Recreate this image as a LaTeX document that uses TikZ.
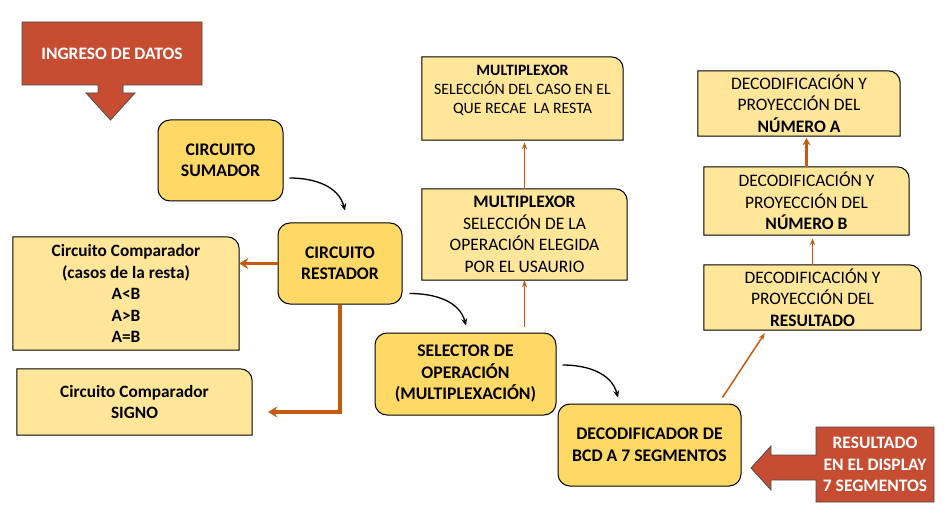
\documentclass[tikz,border=0pt]{standalone}
\usepackage{fontspec}
\setmainfont{Carlito}
\usetikzlibrary{arrows.meta,calc}
\pgfdeclarelayer{background}
\pgfsetlayers{background,main}
\definecolor{gold}{RGB}{255,217,102}
\definecolor{lightgold}{RGB}{255,230,153}
\definecolor{redbox}{RGB}{198,76,50}
\definecolor{orarrow}{RGB}{197,90,17}
\tikzset{
  goldbox/.style={draw=black,line width=1pt,fill=gold,rounded corners=12pt,inner sep=0pt,align=center,font=\fontsize{17.7}{21.5}\selectfont\bfseries},
  lbox/.style={inner sep=0pt,align=center,font=\fontsize{17}{21.5}\selectfont},
  lboxshape/.style={draw=black,line width=1pt,fill=lightgold},
  redshape/.style={draw=black!70,line width=0.8pt,fill=redbox},
  redtext/.style={text=white,align=center,font=\fontsize{17.5}{21.5}\selectfont\bfseries},
  curv/.style={draw=black,line width=1.3pt,-{Stealth[length=7pt,width=6pt]}},
  othin/.style={draw=orarrow,line width=1.5pt,-{Stealth[length=7pt,width=5pt]}},
  othick/.style={draw=orarrow,line width=3.5pt,-{Stealth[length=9pt,width=11pt]}},
  omid/.style={draw=orarrow,line width=2.5pt,-{Stealth[length=7pt,width=8pt]}},
}
\begin{document}
\begin{tikzpicture}[x=1pt,y=-1pt]
\useasboundingbox (0,0) rectangle (945,513);

% INGRESO DE DATOS callout
\path[redshape] (22,22) -- (202,22) -- (202,85) -- (123,85) -- (123,93) -- (135,93) -- (110.5,120) -- (86,93) -- (98,93) -- (98,85) -- (22,85) -- cycle;
\node[redtext] (ing) at (112,53.5) {INGRESO DE DATOS};

% RESULTADO callout
\path[redshape] (816,427) -- (934,427) -- (934,502) -- (816,502) -- (816,480) -- (771,480) -- (771,490) -- (751,468) -- (771,446) -- (771,455) -- (816,455) -- cycle;
\node[redtext] (res7) at (875,464.5) {RESULTADO\\EN EL DISPLAY\\7 SEGMENTOS};

% gold rounded boxes
\node[goldbox,minimum width=125pt,minimum height=81pt] (sum) at (220.5,160.5) {CIRCUITO\\SUMADOR};
\node[goldbox,minimum width=124pt,minimum height=81pt] (rest) at (340,263.5) {CIRCUITO\\RESTADOR};
\node[goldbox,minimum width=181pt,minimum height=82pt] (sel) at (465.5,374) {SELECTOR DE\\OPERACIÓN\\(MULTIPLEXACIÓN)};
\node[goldbox,minimum width=183pt,minimum height=82pt] (dec) at (649.5,445) {DECODIFICADOR DE\\BCD A 7 SEGMENTOS};

% light boxes (one rounded corner)
\node[lbox,font=\fontsize{17.3}{21.5}\selectfont\bfseries,minimum width=226pt,minimum height=113pt] (cmpa) at (126,293.5) {Circuito Comparador\\(casos de la resta)\\A<B\\A>B\\A=B};
\node[lbox,font=\fontsize{17.3}{21.5}\selectfont\bfseries,minimum width=235pt,minimum height=66pt] (cmpb) at (134.5,402) {Circuito Comparador\\SIGNO};
\node[lbox,font=\fontsize{15.8}{19}\selectfont,minimum width=201pt,minimum height=83pt] (muxa) at (522.5,98.5) {\textbf{MULTIPLEXOR}\\SELECCIÓN DEL CASO EN EL\\QUE RECAE\ \ LA RESTA\\\mbox{}};
\node[lbox,font=\fontsize{17.5}{21.5}\selectfont,minimum width=205pt,minimum height=91pt] (muxb) at (524.5,234.5) {\textbf{MULTIPLEXOR}\\SELECCIÓN DE LA\\OPERACIÓN ELEGIDA\\POR EL USAURIO};
\node[lbox,font=\fontsize{17.5}{21.3}\selectfont,minimum width=202pt,minimum height=65pt] (na) at (799,103.5) {DECODIFICACIÓN Y\\PROYECCIÓN DEL\\\textbf{NÚMERO A}};
\node[lbox,font=\fontsize{17.5}{21.3}\selectfont,minimum width=205pt,minimum height=68pt] (nb) at (806.5,201) {DECODIFICACIÓN Y\\PROYECCIÓN DEL\\\textbf{NÚMERO B}};
\node[lbox,font=\fontsize{17.5}{21.3}\selectfont,minimum width=217pt,minimum height=65pt] (nr) at (812.5,297.5) {DECODIFICACIÓN Y\\PROYECCIÓN DEL\\\textbf{RESULTADO}};

\begin{pgfonlayer}{background}
\fill[white] (0,0) rectangle (945,513);
\foreach \n in {cmpa,cmpb,muxa,muxb,na,nb,nr}{
  \path[lboxshape] (\n.south west) -- (\n.north west) -- ([xshift=-12pt]\n.north east) arc[start angle=90,end angle=0,radius=12pt] -- (\n.south east) -- cycle;
}
\end{pgfonlayer}

% curved black connectors
\coordinate (c1s) at ($(sum.east)+(6,17.5)$);
\coordinate (c1e) at ($(rest.north)+(5,-12)$);
\draw[curv] (c1s) to[out=0,in=105] (c1e);
\coordinate (c2s) at ($(rest.east)+(7,30)$);
\coordinate (c2e) at ($(sel.north)+(0.5,-7)$);
\draw[curv] (c2s) to[out=0,in=105] (c2e);
\coordinate (c3s) at ($(sel.east)+(6,-9)$);
\coordinate (c3e) at ($(dec.north)+(-31.5,-6)$);
\draw[curv] (c3s) to[out=0,in=105] (c3e);

% orange connectors
\draw[othick] (rest.west) -- (rest.west -| cmpa.east);
\coordinate (sg) at ($(cmpb.east)+(16,10)$);
\draw[othick,-] (rest.south) -- (rest.south |- sg);
\draw[othick] ([xshift=1.75pt]rest.south |- sg) -- (sg);
\draw[othin] ([yshift=6pt]sel.north -| muxb.south) -- (muxb.south);
\draw[othin,shorten >=2pt] (muxb.north) -- (muxb.north |- muxa.south);
\draw[othin] ([shift={(-19,-6)}]dec.north east) -- ([shift={(61,3)}]nr.south west);
\draw[othin,shorten >=3pt] (nr.north) -- (nr.north |- nb.south);
\draw[omid,shorten >=2pt] (nb.north) -- (nb.north |- na.south);
\end{tikzpicture}
\end{document}
